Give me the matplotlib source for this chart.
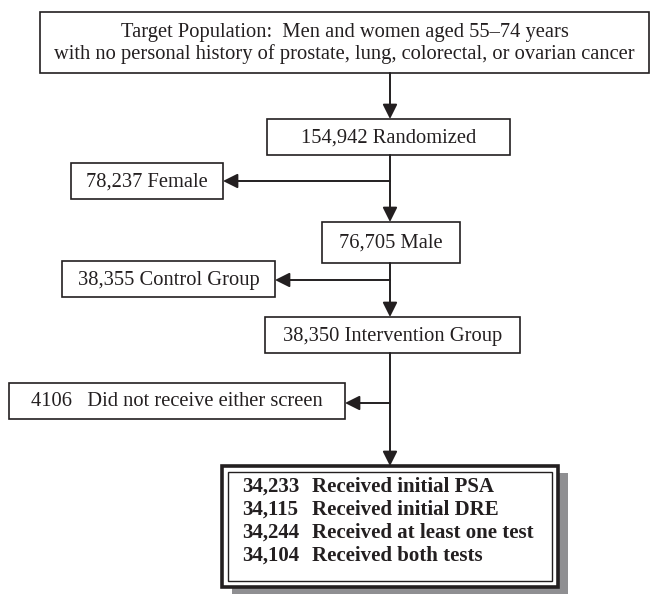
import matplotlib.pyplot as plt
from matplotlib.patches import Rectangle

plt.rcParams['font.family'] = ['Liberation Serif', 'DejaVu Serif']

# chart content
top_text = ['Target Population:  Men and women aged 55\u201374 years',
            'with no personal history of prostate, lung, colorectal, or ovarian cancer']
main_labels = ['154,942 Randomized', '76,705 Male', '38,350 Intervention Group']
side_labels = ['78,237 Female', '38,355 Control Group', '4106   Did not receive either screen']
final_counts = ['34,233', '34,115', '34,244', '34,104']
final_labels = ['Received initial PSA', 'Received initial DRE',
                'Received at least one test', 'Received both tests']

# layout in pixels (x0, x1, y0, y1), y grows downwards
top_box = (40, 649, 12, 73)
main_boxes = [(267, 510, 119, 155), (322, 460, 222, 263), (265, 520, 317, 353)]
side_boxes = [(71, 223, 163, 199), (62, 275, 261, 297), (9, 345, 383, 419)]
side_y = [181, 280, 403]
final_box = (222, 558, 466, 587)
spine_x = 390

ink = '#231f20'
fs = 14.8

fig = plt.figure(figsize=(6.5, 5.94), dpi=100)
ax = fig.add_axes([0, 0, 1, 1])
ax.set_xlim(0, 650)
ax.set_ylim(594, 0)
ax.axis('off')


def box(b, lw=1.2, z=2):
    x0, x1, y0, y1 = b
    ax.add_patch(Rectangle((x0, y0), x1 - x0, y1 - y0, facecolor='white',
                           edgecolor=ink, lw=lw, zorder=z))


def arrow(x0, y0, x1, y1):
    ax.annotate('', xy=(x1, y1), xytext=(x0, y0),
                arrowprops=dict(arrowstyle='-|>', color=ink, lw=1.4,
                                mutation_scale=22, shrinkA=0, shrinkB=0),
                zorder=3)


# top box
box(top_box)
ax.text((top_box[0] + top_box[1]) / 2, (top_box[2] + top_box[3]) / 2 + 1,
        '\n'.join(top_text), ha='center', va='center', fontsize=fs,
        color=ink, linespacing=1.15)

# main column and side boxes
for lab, b in zip(main_labels + side_labels, main_boxes + side_boxes):
    box(b)
    ax.text((b[0] + b[1]) / 2, (b[2] + b[3]) / 2 + 1, lab, ha='center',
            va='center', fontsize=fs, color=ink)

# vertical connectors
tops = [main_boxes[0][2], main_boxes[1][2], main_boxes[2][2], final_box[2]]
bottoms = [top_box[3], main_boxes[0][3], main_boxes[1][3], main_boxes[2][3]]
for y0, y1 in zip(bottoms, tops):
    arrow(spine_x, y0, spine_x, y1)

# side branches
for y, b in zip(side_y, side_boxes):
    arrow(spine_x, y, b[1], y)

# final box with shadow and double border
fx0, fx1, fy0, fy1 = final_box
ax.add_patch(Rectangle((fx0 + 10, fy0 + 7), fx1 - fx0, fy1 - fy0 + 2,
                       facecolor='#8f8f92', edgecolor='none', zorder=1))
box(final_box, lw=2.6, z=2)
ax.add_patch(Rectangle((fx0 + 6, fy0 + 6), fx1 - fx0 - 12, fy1 - fy0 - 12,
                       facecolor='none', edgecolor=ink, lw=1.0, zorder=3))

for i, (n, lab) in enumerate(zip(final_counts, final_labels)):
    y = 487 + i * 23
    ax.text(242, y, n, ha='left', va='center', fontsize=15,
            fontweight='bold', color=ink)
    ax.text(312, y, lab, ha='left', va='center', fontsize=15,
            fontweight='bold', color=ink)

fig.savefig('out.png', dpi=100)
